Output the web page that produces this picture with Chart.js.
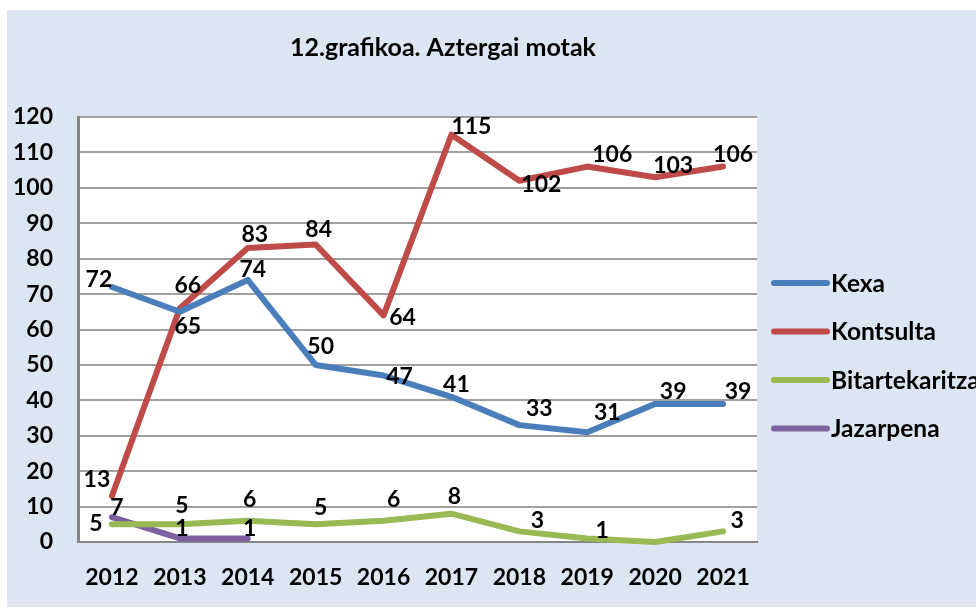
<!DOCTYPE html>
<html>
<head>
<meta charset="utf-8">
<script src="https://cdn.jsdelivr.net/npm/chart.js@4/dist/chart.umd.min.js"></script>
<style>
  html, body { margin: 0; padding: 0; background: #ffffff; }
  #wrap { width: 976px; height: 608px; position: relative; }
</style>
</head>
<body>
<div id="wrap"><canvas id="c" width="976" height="608"></canvas></div>
<script>
const titleText = "12.grafikoa. Aztergai motak";
const years = ["2012","2013","2014","2015","2016","2017","2018","2019","2020","2021"];
const kexa = [72, 65, 74, 50, 47, 41, 33, 31, 39, 39];
const kontsulta = [13, 66, 83, 84, 64, 115, 102, 106, 103, 106];
const bitartekaritza = [5, 5, 6, 5, 6, 8, 3, 1, 0, 3];
const jazarpena = [7, 1, 1, null, null, null, null, null, null, null];
const yTicks = { min: 0, max: 120, step: 10 };

// label nudges relative to the point (px), null = no label
const nudgeKexa = [[-13,-7],[8,15],[5,-10],[5,-18],[16,1],[5,-12],[20,-17],[20,-20],[18,-12],[15,-12]];
const nudgeKontsulta = [[-15,-16],[8,-23],[7,-13],[3,-15],[19,2],[20,-8],[22,4],[25,-12],[18,-12],[10,-12]];
const nudgeBitart = [[-16,-1],[2,-19],[2,-21],[5,-17],[10,-21],[3,-17],[18,-11],[15,-8],null,[14,-11]];
const nudgeJaz = [[5,-10],[2,-10],[2,-10],null,null,null,null,null,null,null];

const FONT = "Lato, 'Liberation Sans', sans-serif";

const bgPlugin = {
  id: 'bg',
  beforeDraw(chart) {
    const ctx = chart.ctx;
    ctx.save();
    ctx.fillStyle = '#ffffff';
    ctx.fillRect(0, 0, chart.width, chart.height);
    ctx.fillStyle = '#dce6f2';
    ctx.fillRect(7, 10, chart.width - 7, chart.height - 11);
    const a = chart.chartArea;
    ctx.fillStyle = '#ffffff';
    ctx.fillRect(a.left, a.top, a.right - a.left, a.bottom - a.top);
    ctx.restore();
  },
  afterDraw(chart) {
    const ctx = chart.ctx;
    ctx.save();
    // title
    ctx.fillStyle = '#000';
    ctx.font = "bold 25px " + FONT;
    ctx.textAlign = 'center';
    ctx.textBaseline = 'middle';
    ctx.fillText(titleText, 443, 48);
    // legend
    const ds = chart.data.datasets;
    ctx.font = "bold 24.5px " + FONT;
    ctx.textAlign = 'left';
    ds.forEach((d, i) => {
      const y = 283 + i * 48.5;
      ctx.strokeStyle = d.borderColor;
      ctx.lineWidth = 6;
      ctx.lineCap = 'round';
      ctx.beginPath();
      ctx.moveTo(774, y);
      ctx.lineTo(827, y);
      ctx.stroke();
      ctx.fillStyle = '#000';
      ctx.fillText(d.label, 831, y + 1);
    });
    ctx.restore();
  },
  afterDatasetsDraw(chart) {
    const ctx = chart.ctx;
    ctx.save();
    ctx.fillStyle = '#000';
    ctx.font = "bold 23px " + FONT;
    ctx.textAlign = 'center';
    ctx.textBaseline = 'middle';
    chart.data.datasets.forEach((d, i) => {
      const meta = chart.getDatasetMeta(i);
      meta.data.forEach((pt, j) => {
        const v = d.data[j];
        const n = d.nudge[j];
        if (v === null || v === undefined || !n) return;
        ctx.fillText(String(v), pt.x + n[0], pt.y + n[1]);
      });
    });
    ctx.restore();
  }
};

const mk = (label, data, color, nudge) => ({
  label, data, nudge,
  borderColor: color, backgroundColor: color,
  borderWidth: 6, pointRadius: 0, pointHoverRadius: 0,
  tension: 0, borderCapStyle: 'round', borderJoinStyle: 'round',
  spanGaps: false, clip: 6
});

new Chart(document.getElementById('c'), {
  type: 'line',
  data: {
    labels: years,
    datasets: [
      mk('Kexa', kexa, '#4a7ebb', nudgeKexa),
      mk('Kontsulta', kontsulta, '#be4b48', nudgeKontsulta),
      mk('Bitartekaritza', bitartekaritza, '#98b954', nudgeBitart),
      mk('Jazarpena', jazarpena, '#7d60a0', nudgeJaz)
    ]
  },
  options: {
    responsive: false,
    animation: false,
    devicePixelRatio: 1,
    layout: { padding: { left: 0, top: 117, right: 219, bottom: 0 } },
    plugins: { legend: { display: false }, title: { display: false }, tooltip: { enabled: false } },
    scales: {
      x: {
        offset: true,
        grid: { display: false, drawTicks: false },
        border: { display: true, color: '#868686', width: 2 },
        ticks: { color: '#000', font: { family: FONT, size: 23, weight: 'bold' }, padding: 22, maxRotation: 0, autoSkip: false },
        afterFit(s) { s.height = 66; }
      },
      y: {
        min: yTicks.min, max: yTicks.max,
        grid: { color: '#a0a0a0', lineWidth: 2, drawTicks: false },
        border: { display: true, color: '#868686', width: 3 },
        ticks: { stepSize: yTicks.step, color: '#000', font: { family: FONT, size: 23, weight: 'bold' }, padding: 25 },
        afterFit(s) { s.width = 78; }
      }
    }
  },
  plugins: [bgPlugin]
});
</script>
</body>
</html>
